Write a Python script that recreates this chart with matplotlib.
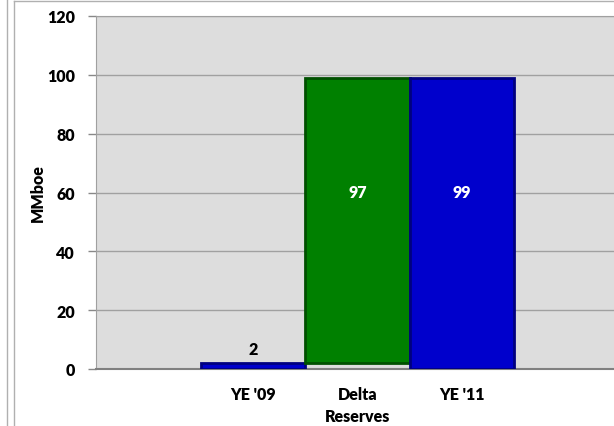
import matplotlib
matplotlib.use("Agg")
import matplotlib.pyplot as plt
from matplotlib.lines import Line2D

# waterfall data
categories = ["", "YE '09", "Delta\nReserves", "YE '11", ""]
bar_bottoms = [0, 0, 2, 0, 0]
bar_heights = [0, 2, 97, 99, 0]
bar_colors = ["#0000CC", "#0000CC", "#008000", "#0000CC", "#0000CC"]
edge_colors = ["#000080", "#000080", "#005000", "#000080", "#000080"]
labels = ["", "2", "97", "99", ""]
label_colors = ["black", "black", "white", "white", "black"]
yticks = [0, 20, 40, 60, 80, 100, 120]

plt.rcParams['font.family'] = ['Lato', 'DejaVu Sans']
FS = 11.5
FW = "heavy"

fig = plt.figure(figsize=(6.14, 4.27), dpi=100)
W, H = 614, 427
# plot area in pixels: left 96, top 17, bottom 370, right ~619 (runs off the figure)
ax = fig.add_axes([96 / W, 1 - 370 / H, (619 - 96) / W, (370 - 17) / H])
ax.set_facecolor("#DDDDDD")

x = list(range(len(categories)))
for i in x:
    if bar_heights[i] == 0:
        continue
    ax.bar(i, bar_heights[i], bottom=bar_bottoms[i], width=1.0,
           color=bar_colors[i], edgecolor=edge_colors[i], linewidth=2, zorder=3)

for i in x:
    if not labels[i]:
        continue
    if label_colors[i] == "white":
        ypos = 60
        va = "center"
    else:
        ypos = bar_bottoms[i] + bar_heights[i] + 2
        va = "bottom"
    ax.text(i, ypos, labels[i], ha="center", va=va, color=label_colors[i],
            fontsize=FS, fontweight=FW, zorder=4)

ax.set_xlim(-0.5, len(categories) - 0.5)
ax.set_ylim(0, 120)
ax.set_yticks(yticks)
ax.set_yticklabels([str(v) for v in yticks], fontsize=FS, fontweight=FW)
ax.set_xticks(x)
ax.set_xticklabels(categories, fontsize=FS, fontweight=FW, linespacing=1.5)
ax.tick_params(axis="x", length=0, pad=12)
ax.tick_params(axis="y", length=6, width=1, color="#888888", pad=9)
ax.grid(axis="y", color="#A0A0A0", linewidth=1, zorder=1)
for side in ["top", "right", "left"]:
    ax.spines[side].set_color("#A0A0A0")
ax.spines["bottom"].set_color("#808080")
ax.spines["bottom"].set_linewidth(1.5)
ax.set_ylabel("MMboe", fontsize=FS, fontweight=FW, labelpad=1)

# chart frame lines
fig.add_artist(Line2D([7 / W, 7 / W], [0, 1], color="#B0B0B0", linewidth=1))
fig.add_artist(Line2D([14 / W, 14 / W], [0, 1 - 2 / H], color="#B0B0B0", linewidth=1))
fig.add_artist(Line2D([14 / W, 1], [1 - 2 / H, 1 - 2 / H], color="#B0B0B0", linewidth=1))

fig.savefig("out.png", dpi=100)
